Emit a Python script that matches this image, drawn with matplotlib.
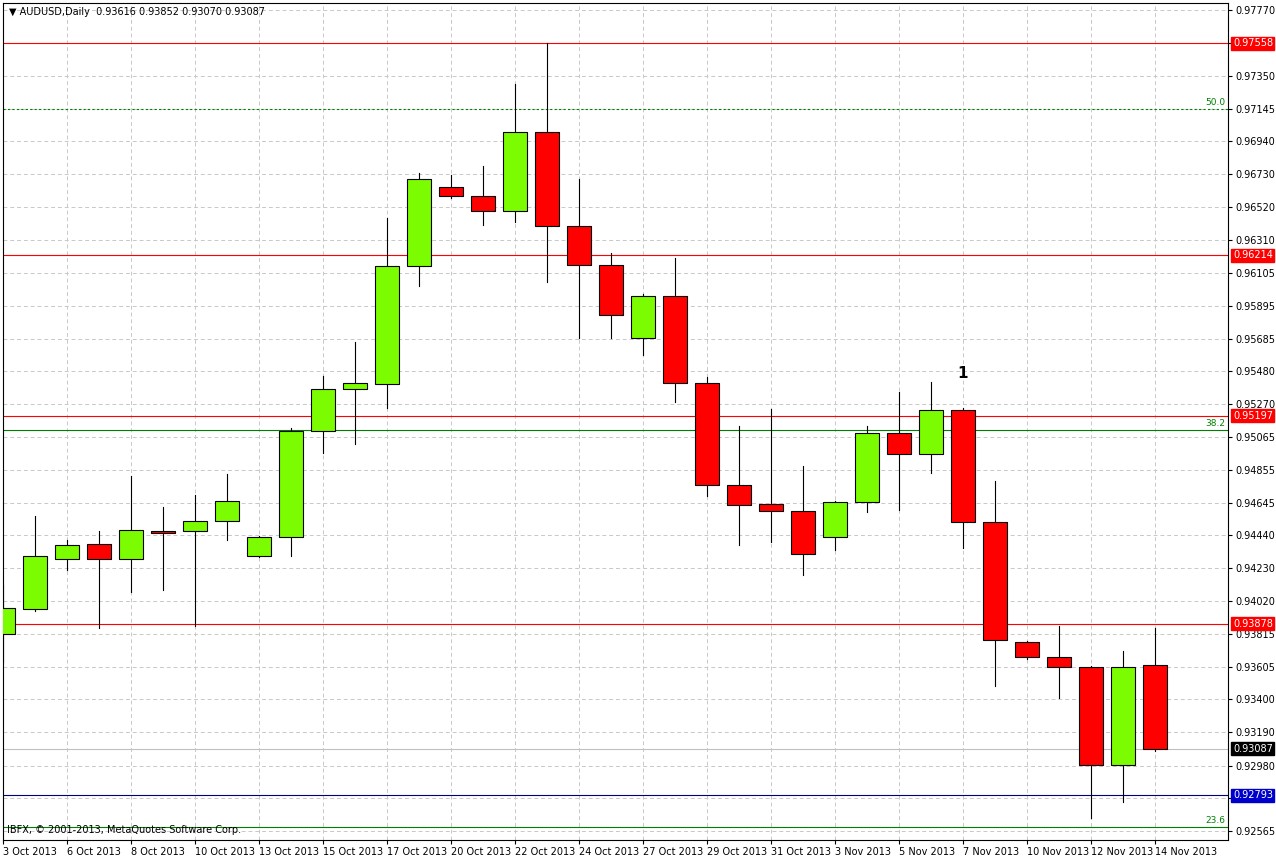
import matplotlib
matplotlib.use("Agg")
import matplotlib.pyplot as plt
from matplotlib.patches import Rectangle

opens  = [0.93814,0.93972,0.94289,0.94385,0.94289,0.94467,0.94467,0.94530,0.94308,0.94429,0.95101,0.95367,0.95399,0.96147,0.96648,0.96591,0.96496,0.96999,0.96401,0.96153,0.95691,0.95957,0.95405,0.94759,0.94638,0.94594,0.94429,0.94651,0.95088,0.94955,0.95234,0.94524,0.93763,0.93668,0.93605,0.92983,0.93616]
highs  = [0.94124,0.94562,0.94410,0.94467,0.94816,0.94620,0.94695,0.94830,0.94435,0.95120,0.95450,0.95665,0.96451,0.96737,0.96724,0.96781,0.97301,0.97561,0.96699,0.96229,0.95969,0.96198,0.95443,0.95133,0.95240,0.94879,0.94660,0.95133,0.95348,0.95412,0.95247,0.94784,0.93770,0.93865,0.93611,0.93706,0.93852]
lows   = [0.93636,0.93960,0.94220,0.93852,0.94080,0.94093,0.93865,0.94410,0.94302,0.94308,0.94961,0.95018,0.95247,0.96020,0.96578,0.96407,0.96426,0.96045,0.95691,0.95691,0.95583,0.95285,0.94689,0.94378,0.94397,0.94188,0.94346,0.94587,0.94600,0.94835,0.94359,0.93484,0.93655,0.93408,0.92647,0.92749,0.93070]
closes = [0.93979,0.94308,0.94378,0.94289,0.94473,0.94454,0.94530,0.94657,0.94429,0.95101,0.95367,0.95405,0.96147,0.96699,0.96591,0.96496,0.96999,0.96401,0.96153,0.95836,0.95957,0.95405,0.94759,0.94632,0.94594,0.94321,0.94651,0.95088,0.94955,0.95234,0.94524,0.93776,0.93668,0.93605,0.92983,0.93605,0.93087]
date_labels = ["3 Oct 2013","6 Oct 2013","8 Oct 2013","10 Oct 2013","13 Oct 2013","15 Oct 2013","17 Oct 2013","20 Oct 2013","22 Oct 2013","24 Oct 2013","27 Oct 2013","29 Oct 2013","31 Oct 2013","3 Nov 2013","5 Nov 2013","7 Nov 2013","10 Nov 2013","12 Nov 2013","14 Nov 2013"]
date_pos = [0,2,4,6,8,10,12,14,16,18,20,22,24,26,28,30,32,34,36]
price_ticks = [0.97770,0.97560,0.97350,0.97145,0.96940,0.96730,0.96520,0.96310,0.96105,0.95895,0.95685,0.95480,0.95270,0.95065,0.94855,0.94645,0.94440,0.94230,0.94020,0.93815,0.93605,0.93400,0.93190,0.92980,0.92775,0.92565]
hidden_ticks = [0.97560,0.92775]
red_levels = [0.97558,0.96214,0.95197,0.93878]
fib_levels = [0.97145,0.95110,0.92590]
fib_names = ["50.0","38.2","23.6"]
blue_level = 0.92793
last_price = 0.93087

W,H = 1276,856
fig = plt.figure(figsize=(W/100,H/100),dpi=100)
ax = fig.add_axes([3/W,(H-840)/H,1225/W,837/H])
ax.set_xlim(0,38.28)
ax.set_ylim(0.92508,0.97814)
ax.set_yticks(price_ticks)
ax.set_yticklabels(["" if p in hidden_ticks else f"{p:.5f}" for p in price_ticks])
ax.yaxis.tick_right()
ax.set_xticks(date_pos)
ax.set_xticklabels(date_labels, ha="left")
ax.tick_params(axis="both", labelsize=7, length=3, pad=2)
ax.grid(True, color="#c8c8c8", linestyle=(0,(4,3)), linewidth=0.7)
ax.set_axisbelow(True)

for i,(o,h,l,c) in enumerate(zip(opens,highs,lows,closes)):
    col = "#7cfc00" if c>=o else "#ff0000"
    ax.plot([i,i],[l,h],color="black",lw=0.8,zorder=2)
    ax.add_patch(Rectangle((i-0.375,min(o,c)),0.75,max(abs(c-o),0.00003),
                           facecolor=col,edgecolor="black",lw=0.8,zorder=3))

tr = ax.get_yaxis_transform()
for lv in red_levels:
    ax.axhline(lv,color="#ff0000",lw=0.8,zorder=1)
    ax.text(1.004,lv,f"{lv:.5f}",transform=tr,fontsize=7,color="white",va="center",
            bbox=dict(boxstyle="square,pad=0.15",fc="#ff0000",ec="#ff0000"),clip_on=False)
ax.axhline(fib_levels[0],color="#008000",lw=0.8,ls=(0,(2,2)),zorder=1)
ax.axhline(fib_levels[1],color="#008000",lw=0.8,zorder=1)
ax.axhline(fib_levels[2],color="#008000",lw=0.8,zorder=1)
for lv,nm in zip(fib_levels,fib_names):
    ax.text(38.2,lv+0.0001,nm,fontsize=6.5,color="#008000",ha="right",va="bottom")
ax.axhline(blue_level,color="#000080",lw=0.8,zorder=1)
ax.text(1.004,blue_level,f"{blue_level:.5f}",transform=tr,fontsize=7,color="white",va="center",
        bbox=dict(boxstyle="square,pad=0.15",fc="#0000cc",ec="#0000cc"),clip_on=False)
ax.axhline(last_price,color="#c0c0c0",lw=0.8,zorder=1)
ax.text(1.004,last_price,f"{last_price:.5f}",transform=tr,fontsize=7,color="white",va="center",
        bbox=dict(boxstyle="square,pad=0.15",fc="black",ec="black"),clip_on=False)

ax.text(30,0.9542,"1",fontsize=11,fontweight="bold",ha="center",va="bottom")
ax.text(0.005,0.995,"▼ AUDUSD,Daily  0.93616 0.93852 0.93070 0.93087",transform=ax.transAxes,
        fontsize=7,va="top",ha="left")
ax.text(0.003,0.006,"IBFX, © 2001-2013, MetaQuotes Software Corp.",transform=ax.transAxes,
        fontsize=7,va="bottom",ha="left")
fig.savefig("out.png",dpi=100)
